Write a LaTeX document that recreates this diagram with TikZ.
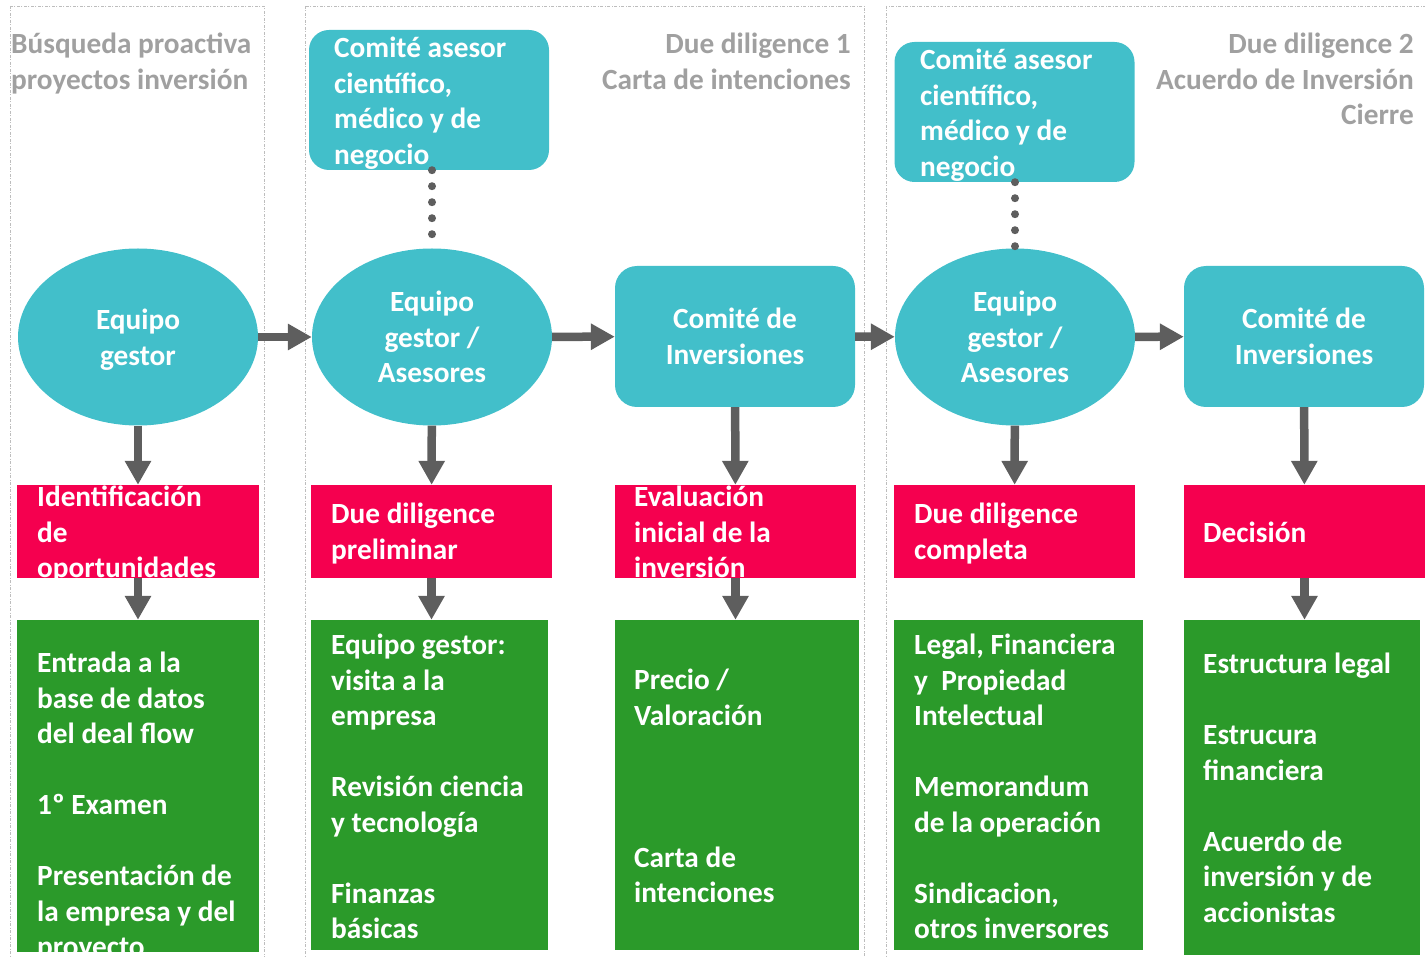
\documentclass[tikz,border=0pt]{standalone}
\usepackage{fontspec}
\setmainfont{Carlito}
\usetikzlibrary{arrows.meta, shapes.geometric}
\definecolor{stageteal}{HTML}{42BFCA}
\definecolor{stagered}{HTML}{F5004F}
\definecolor{stagegreen}{HTML}{2B9A2A}
\definecolor{arrowgray}{HTML}{5E5E5E}
\definecolor{headgray}{HTML}{A0A0A0}
\definecolor{framegray}{HTML}{BDBDBD}

\begin{document}
\begin{tikzpicture}[x=1pt, y=-1pt, >={Triangle[length=24pt, width=25pt]},
    every node/.style={font=\fontsize{29.3}{35.5}\selectfont\bfseries},
    phase/.style={ellipse, fill=stageteal, minimum width=240pt,
      minimum height=177pt, inner sep=1pt, text=white, align=center,
      text depth=0pt},
    board/.style={rectangle, rounded corners=22pt, fill=stageteal,
      minimum width=240pt, minimum height=141pt, text=white, align=center},
    advisor/.style={rectangle, rounded corners=20pt, fill=stageteal,
      minimum width=240pt, minimum height=140pt},
    task/.style={rectangle, fill=stagered, minimum width=241pt,
      minimum height=93pt},
    detail/.style={rectangle, fill=stagegreen},
    boxtext/.style={anchor=north west, inner sep=0pt, text=white,
      align=left, execute at begin node=\strut},
    header/.style={inner sep=0pt, text=headgray,
      execute at begin node=\strut},
    flow/.style={->, line width=8.5pt, draw=arrowgray},
    link/.style={draw=arrowgray, line width=8pt, line cap=round,
      dash pattern=on 0pt off 16pt},
    frame/.style={draw=framegray, line width=0.9pt,
      dash pattern=on 3pt off 1.5pt on 1pt off 1.5pt}]
  \useasboundingbox (0,0) rectangle (1425,957);

  % stage frames
  \draw[frame] (10,6) rectangle (264,975);
  \draw[frame] (305,6) rectangle (864,975);
  \draw[frame] (886,6) rectangle (1440,975);

  % stage headers
  \node[header, anchor=north west, align=left] (h1) at (11,33)
    {Búsqueda proactiva\\proyectos inversión};
  \node[header, anchor=north east, align=right] (h2) at (851,33)
    {Due diligence 1\\Carta de intenciones};
  \node[header, anchor=north east, align=right] (h3) at (1414,33)
    {Due diligence 2\\Acuerdo de Inversión\\Cierre};

  % advisory boards
  \node[advisor] (t2) at (429,100) {};
  \node[boxtext] (t2txt) at (334,37)
    {Comité asesor\\científico,\\médico y de\\negocio};
  \node[advisor] (t4) at (1014.5,112) {};
  \node[boxtext] (t4txt) at (920,49)
    {Comité asesor\\científico,\\médico y de\\negocio};

  % main row
  \node[phase] (e1) at (138,337) {Equipo\\gestor};
  \node[phase] (e2) at (432,337) {Equipo\\gestor /\\Asesores};
  \node[board] (c3) at (735,336.5) {Comité de\\Inversiones};
  \node[phase] (e4) at (1015,337) {Equipo\\gestor /\\Asesores};
  \node[board] (c5) at (1304,336.5) {Comité de\\Inversiones};

  % tasks
  \node[task, minimum width=242pt] (r1) at (138,531.5) {};
  \node[task] (r2) at (431.5,531.5) {};
  \node[task] (r3) at (735.5,531.5) {};
  \node[task] (r4) at (1014.5,531.5) {};
  \node[task] (r5) at (1304.5,531.5) {};
  \node[boxtext] (r1txt) at (37,486) {Identificación\\de\\oportunidades};
  \node[boxtext] (r2txt) at (331,503) {Due diligence\\preliminar};
  \node[boxtext] (r3txt) at (634,486) {Evaluación\\inicial de la\\inversión};
  \node[boxtext] (r4txt) at (914,503) {Due diligence\\completa};
  \node[boxtext] (r5txt) at (1203,517) {Decisión};

  % details
  \node[detail, minimum width=242pt, minimum height=332pt] (g1) at (138,786) {};
  \node[detail, minimum width=237pt, minimum height=330pt] (g2) at (429.5,785) {};
  \node[detail, minimum width=244pt, minimum height=330pt] (g3) at (737,785) {};
  \node[detail, minimum width=249pt, minimum height=330pt] (g4) at (1018.5,785) {};
  \node[detail, minimum width=236pt, minimum height=335pt] (g5) at (1302,787.5) {};
  \node[boxtext] (g1txt) at (37,652)
    {Entrada a la\\base de datos\\del deal flow\\[35.5pt]1º Examen\\[35.5pt]%
     Presentación de\\la empresa y del\\proyecto};
  \node[boxtext] (g2txt) at (331,634)
    {Equipo gestor:\\visita a la\\empresa\\[35.5pt]Revisión ciencia\\%
     y tecnología\\[35.5pt]Finanzas\\básicas};
  \node[boxtext] (g3txt) at (634,669)
    {Precio /\\Valoración\\[106.5pt]Carta de\\intenciones};
  \node[boxtext] (g4txt) at (914,634)
    {Legal, Financiera\\y\ \ Propiedad\\Intelectual\\[35.5pt]Memorandum\\%
     de la operación\\[35.5pt]Sindicacion,\\otros inversores};
  \node[boxtext] (g5txt) at (1203,653)
    {Estructura legal\\[35.5pt]Estrucura\\financiera\\[35.5pt]Acuerdo de\\%
     inversión y de\\accionistas};

  % connectors
  \foreach \a/\b in {e1/e2, e2/c3, c3/e4, e4/c5, e1/r1, e2/r2, c3/r3, e4/r4, c5/r5}
    \draw[flow] (\a) -- (\b);
  \foreach \a/\b in {r1/g1, r2/g2, r3/g3, r5/g5}
    \draw[flow] (\a.south) -- (\a.south |- \b.north);
  \draw[link] (e2.north |- t2.south) -- (e2.north);
  \draw[link] (e4.north |- t4.south) -- (e4.north);
\end{tikzpicture}
\end{document}
